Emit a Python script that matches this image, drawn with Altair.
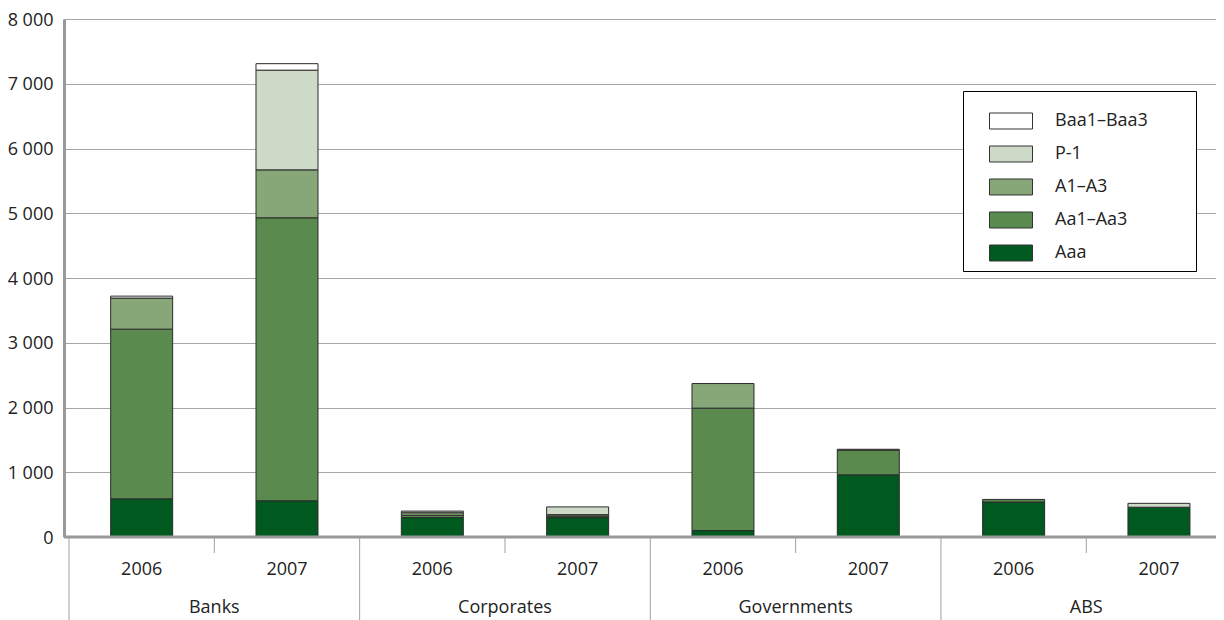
import altair as alt
import pandas as pd

# ---- data ----
categories = ["Banks", "Corporates", "Governments", "ABS"]
years = ["2006", "2007"]
slot_category = ["Banks", "Banks", "Corporates", "Corporates",
                 "Governments", "Governments", "ABS", "ABS"]
slot_year = ["2006", "2007", "2006", "2007", "2006", "2007", "2006", "2007"]

aaa = [590, 560, 300, 300, 100, 960, 540, 460]
aa1_aa3 = [2620, 4370, 35, 25, 1890, 380, 40, 0]
a1_a3 = [480, 740, 40, 20, 380, 15, 0, 0]
p_1 = [0, 1540, 25, 120, 0, 0, 0, 60]
baa1_baa3 = [30, 100, 0, 0, 0, 0, 0, 0]

ratings = ["Aaa", "Aa1–Aa3", "A1–A3", "P-1", "Baa1–Baa3"]
legend_order = ["Baa1–Baa3", "P-1", "A1–A3", "Aa1–Aa3", "Aaa"]
rating_colors = {"Aaa": "#005a1f", "Aa1–Aa3": "#5b8a4f", "A1–A3": "#87a779",
                 "P-1": "#cedac8", "Baa1–Baa3": "#ffffff"}
y_ticks = [0, 1000, 2000, 3000, 4000, 5000, 6000, 7000, 8000]

# ---- build tables ----
series = [aaa, aa1_aa3, a1_a3, p_1, baa1_baa3]
rows = []
for i in range(len(slot_year)):
    cum = 0
    for r, vals in zip(ratings, series):
        v = vals[i]
        if v > 0:
            rows.append({"pos": i + 0.5, "rating": r, "y0": cum, "y1": cum + v,
                         "value": v, "category": slot_category[i], "year": slot_year[i]})
        cum += v
bars_df = pd.DataFrame(rows)
slots_df = pd.DataFrame({"pos": [i + 0.5 for i in range(len(slot_year))], "year": slot_year})
groups_df = pd.DataFrame({"center": [2 * k + 1 for k in range(len(categories))], "category": categories})
long_sep = pd.DataFrame({"p": [2 * k for k in range(len(categories))]})
short_sep = pd.DataFrame({"p": [2 * k + 1 for k in range(len(categories))]})
zero_df = pd.DataFrame({"v": [0]})

W, H = 1152, 518
STEP = 146.6  # pixel width of one year slot in the reference (right part is cut off)
FONT = "Open Sans"
TXT = "#222222"
xscale = alt.Scale(domain=[0, W / STEP], nice=False, zero=False)
yscale = alt.Scale(domain=[0, 8000], nice=False)

bars = alt.Chart(bars_df).mark_bar(size=62, stroke="#2b2b2b", strokeWidth=1).encode(
    x=alt.X("pos:Q", scale=xscale, axis=None),
    y=alt.Y("y0:Q", scale=yscale, axis=alt.Axis(
        values=y_ticks, title=None, tickSize=0, labelPadding=11, labelOffset=1,
        labelExpr="replace(format(datum.value, ','), ',', ' ')",
        labelFont=FONT, labelFontSize=18, labelColor=TXT,
        domainColor="#999999", domainWidth=3,
        gridColor="#a6a6a6", gridWidth=1.2)),
    y2="y1:Q",
    color=alt.Color("rating:N",
                    scale=alt.Scale(domain=legend_order,
                                    range=[rating_colors[r] for r in legend_order]),
                    legend=alt.Legend(
                        title="\u00a0", titleOrient="right", titlePadding=40,
                        titleFontSize=10,
                        orient="none", legendX=899, legendY=72,
                        symbolType="M-1,-0.372H1V0.372H-1Z", symbolSize=1849,
                        symbolStrokeColor="#333333", symbolStrokeWidth=1, symbolOpacity=1,
                        symbolOffset=18,
                        labelFont=FONT, labelFontSize=18, labelColor=TXT, labelOffset=22,
                        rowPadding=1, padding=8, strokeColor="#000000",
                        fillColor="#ffffff")),
)

baseline = alt.Chart(zero_df).mark_rule(color="#999999", strokeWidth=3).encode(
    y=alt.Y("v:Q", scale=yscale))

long_rules = alt.Chart(long_sep).mark_rule(color="#a0a0a0", strokeWidth=1).encode(
    x=alt.X("p:Q", scale=xscale), y=alt.value(H), y2=alt.value(H + 83))
short_rules = alt.Chart(short_sep).mark_rule(color="#a0a0a0", strokeWidth=1).encode(
    x=alt.X("p:Q", scale=xscale), y=alt.value(H), y2=alt.value(H + 16))

year_text = alt.Chart(slots_df).mark_text(
    font=FONT, fontSize=18, color=TXT, baseline="middle", align="center").encode(
    x=alt.X("pos:Q", scale=xscale), y=alt.value(H + 33), text="year:N")
cat_text = alt.Chart(groups_df).mark_text(
    font=FONT, fontSize=18, color=TXT, baseline="middle", align="center").encode(
    x=alt.X("center:Q", scale=xscale), y=alt.value(H + 71), text="category:N")

chart = alt.layer(bars, baseline, long_rules, short_rules, year_text, cat_text).properties(
    width=W, height=H,
    autosize=alt.AutoSizeParams(type="none"),
    padding={"left": 56, "top": 11, "right": 0, "bottom": 83},
).configure_view(strokeWidth=0).configure(background="#ffffff")

chart.save("out.html", embed_options={"renderer": "svg", "actions": False})
